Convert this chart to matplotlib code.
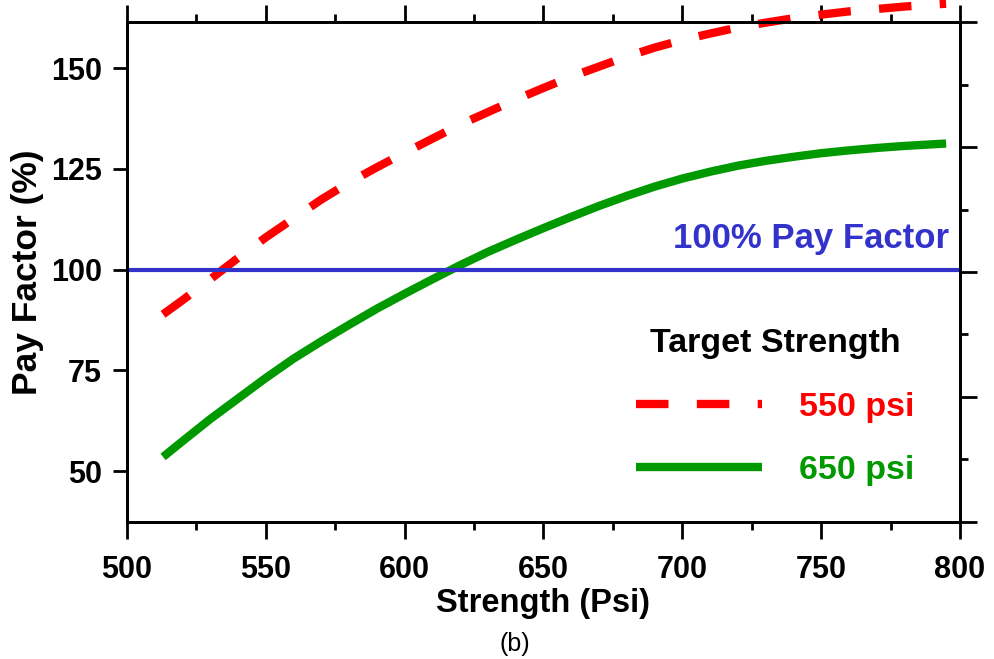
import numpy as np
import matplotlib.pyplot as plt
from matplotlib.ticker import MultipleLocator

plt.rcParams['font.family'] = ['Liberation Sans', 'DejaVu Sans']
plt.rcParams['font.weight'] = 'bold'

# Pay factor (%) vs strength (psi) for the two target strengths
strength = [513, 520, 530, 540, 550, 560, 570, 580, 590, 600, 610, 620, 630,
            640, 650, 660, 670, 680, 690, 700, 710, 720, 730, 740, 750, 760,
            770, 780, 790, 795]
pay_550 = [88.9, 92.4, 97.6, 102.9, 108.0, 112.7, 117.4, 121.6, 125.4, 129.0,
           132.5, 136.0, 139.1, 142.2, 145.1, 147.9, 150.4, 152.9, 155.1, 157.0,
           158.6, 160.1, 161.3, 162.4, 163.3, 164.1, 164.7, 165.3, 165.8, 166.0]
pay_650 = [53.5, 57.4, 62.9, 68.0, 73.1, 77.9, 82.2, 86.3, 90.3, 94.0,
           97.6, 101.1, 104.4, 107.4, 110.3, 113.1, 115.8, 118.3, 120.6, 122.6,
           124.3, 125.8, 127.0, 128.0, 128.9, 129.6, 130.2, 130.7, 131.1, 131.3]

PAY_100 = 100
x_ticks = [500, 550, 600, 650, 700, 750, 800]
y_ticks = [50, 75, 100, 125, 150]

RED = '#ff0000'
GREEN = '#009900'
BLUE = '#3333cc'

fig = plt.figure(figsize=(9.95, 6.59), dpi=100)
ax = fig.add_axes([0.1276, 0.2086, 0.8372, 0.7573])

ax.plot(strength, pay_550, color=RED, lw=6, dashes=(3.9, 3.4),
        dash_capstyle='butt', clip_on=False, label='550 psi')
ax.plot(strength, pay_650, color=GREEN, lw=6, solid_capstyle='butt',
        label='650 psi')
ax.axhline(PAY_100, color=BLUE, lw=3)
ax.text(796, 107.8, '100% Pay Factor', color=BLUE, fontsize=25,
        fontweight='bold', ha='right', va='center')

ax.set_xlim(500, 800)
ax.set_ylim(37.46, 161.35)
ax.set_xticks(x_ticks)
ax.xaxis.set_minor_locator(MultipleLocator(25))
ax.set_yticks(y_ticks)

for s in ax.spines.values():
    s.set_linewidth(2)

ax.tick_params(axis='x', which='both', direction='out', top=True, width=2,
               labelsize=22, pad=12)
ax.tick_params(axis='x', which='major', length=12)
ax.tick_params(axis='x', which='minor', length=6)
ax.tick_params(axis='y', which='major', direction='out', length=10, width=2,
               labelsize=22, pad=8, right=False)

ax.set_xlabel('Strength (Psi)', fontsize=23.5, fontweight='bold', labelpad=2)
ax.set_ylabel('Pay Factor (%)', fontsize=25.5, fontweight='bold', labelpad=5)

# unlabeled ticks on the right side
ax_r = ax.twinx()
ax_r.set_ylim(0, 4)
ax_r.set_yticks([0, 1, 2, 3, 4])
ax_r.yaxis.set_minor_locator(MultipleLocator(0.5))
ax_r.tick_params(axis='y', which='both', direction='out', width=2, labelright=False)
ax_r.tick_params(axis='y', which='major', length=12)
ax_r.tick_params(axis='y', which='minor', length=6)
for s in ax_r.spines.values():
    s.set_linewidth(2)

leg = ax.legend(loc='center', bbox_to_anchor=(0.779, 0.382),
                bbox_transform=fig.transFigure, frameon=False,
                title='Target Strength', handlelength=3.7, handletextpad=1.1,
                labelspacing=0.95, labelcolor='linecolor',
                prop={'size': 24.5, 'weight': 'bold'},
                title_fontproperties={'size': 24.5, 'weight': 'bold'})

fig.text(0.517, 1 - 644 / 659, '(b)', fontsize=18, fontweight='normal',
         ha='center', va='center')

fig.savefig('out.png', dpi=100)
